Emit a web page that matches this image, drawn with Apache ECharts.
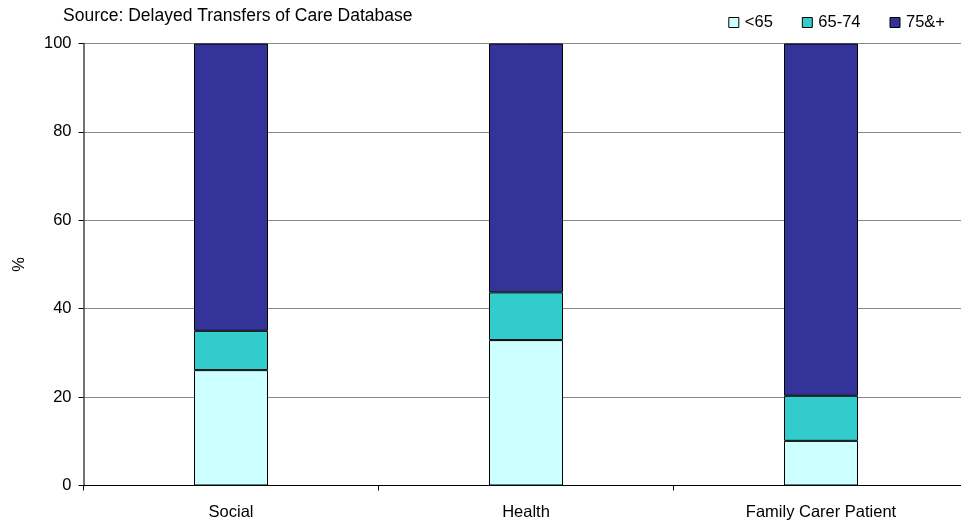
<!DOCTYPE html>
<html>
<head>
<meta charset="utf-8">
<script src="https://cdn.jsdelivr.net/npm/echarts@6/dist/echarts.min.js"></script>
<style>
  html, body { margin: 0; padding: 0; background: #fff; }
  #chart { width: 961px; height: 520px; }
</style>
</head>
<body>
<div id="chart"></div>
<script>
// Reasons for delayed transfer, split by age band (percent of each group)
const categories = ['Social', 'Health', 'Family Carer Patient'];
const under65 = [26.1, 32.9, 10.1];
const age65to74 = [8.9, 10.8, 10.2];
const age75plus = [65.0, 56.3, 79.7];
const yTicks = [0, 20, 40, 60, 80, 100];

const seriesNames = ['<65', '65-74', '75&+'];
const seriesColors = ['#CCFFFF', '#33CCCC', '#333399'];
const seriesData = [under65, age65to74, age75plus];

const font = 'Liberation Sans, Arial, sans-serif';
const fs = 16.5;
const chart = echarts.init(document.getElementById('chart'), null, { renderer: 'canvas' });

chart.setOption({
  animation: false,
  backgroundColor: '#fff',
  title: {
    text: 'Source: Delayed Transfers of Care Database',
    left: 58, top: 2,
    textStyle: { fontFamily: font, fontSize: 17.5, fontWeight: 'normal', color: '#000' }
  },
  legend: {
    data: seriesNames,
    right: 11, top: 9,
    itemWidth: 10, itemHeight: 10, itemGap: 29,
    icon: 'rect',
    textStyle: { fontFamily: font, fontSize: fs, color: '#000', padding: [0, 0, 0, 1] },
    itemStyle: { borderColor: '#000', borderWidth: 1 }
  },
  grid: {
    left: 83.5, top: 43.5, width: 885, height: 442,
    containLabel: false, outerBoundsMode: 'none'
  },
  xAxis: {
    type: 'category',
    data: categories,
    axisLine: { lineStyle: { color: '#000', width: 1 } },
    axisTick: { show: true, length: 5, lineStyle: { color: '#000' } },
    axisLabel: { fontFamily: font, fontSize: fs, color: '#000', margin: 18 },
    splitLine: { show: false }
  },
  yAxis: {
    type: 'value',
    min: yTicks[0], max: yTicks[yTicks.length - 1], interval: 20,
    name: '%',
    nameLocation: 'middle',
    nameGap: 56,
    nameRotate: 90,
    nameTextStyle: { fontFamily: font, fontSize: fs, color: '#000' },
    axisLine: { show: true, lineStyle: { color: '#444', width: 1.5 } },
    axisTick: { show: true, length: 5, lineStyle: { color: '#000' } },
    axisLabel: { fontFamily: font, fontSize: fs, color: '#000', margin: 12 },
    splitLine: { show: true, lineStyle: { color: '#888', width: 1 } }
  },
  series: seriesNames.map((name, i) => ({
    name,
    type: 'bar',
    stack: 'total',
    barWidth: 74,
    data: seriesData[i],
    itemStyle: { color: seriesColors[i], borderColor: '#000', borderWidth: 1 }
  }))
});
</script>
</body>
</html>
